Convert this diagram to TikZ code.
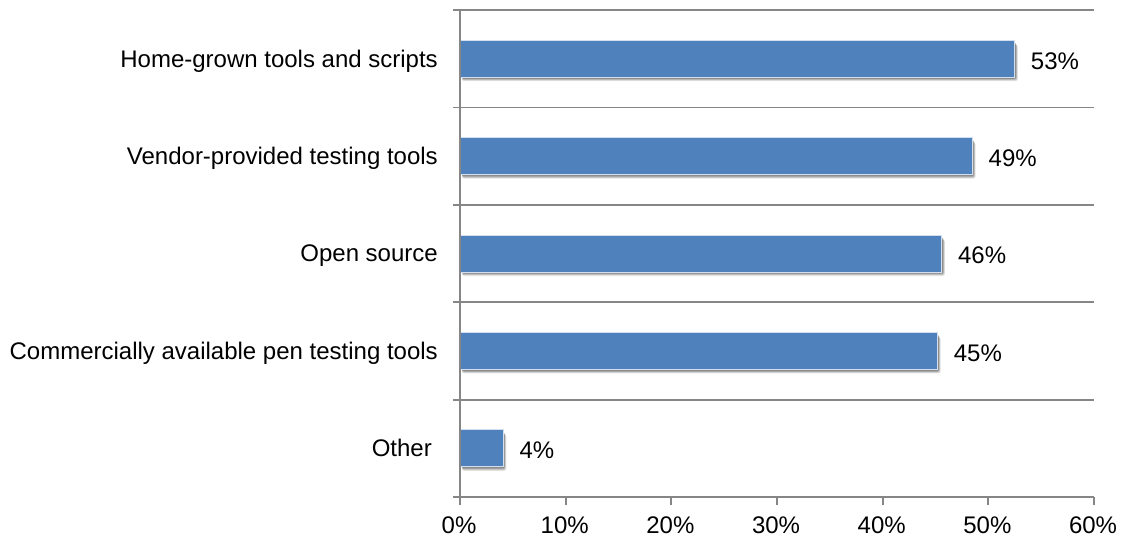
\documentclass[tikz,border=0pt]{standalone}
\usepackage{fontspec}
\setmainfont{Liberation Sans}
\definecolor{barblue}{HTML}{4F81BD}
\definecolor{axisgray}{HTML}{868686}
\begin{document}
\begin{tikzpicture}[x=1pt,y=-1pt,
  axisline/.style={draw=axisgray,line width=2.6pt},
  gridline/.style={draw=axisgray,line width=1.8pt},
  bar/.style={fill=barblue,draw=white!75!barblue,line width=0.8pt},
  labelfont/.style={font=\fontsize{24}{28}\selectfont,inner sep=0pt},
  catlabel/.style={labelfont,anchor=base east},
  vallabel/.style={labelfont,anchor=base west},
  ticklabel/.style={labelfont,anchor=base}]
\useasboundingbox (0,0) rectangle (1121,538);
% category separators and y-axis ticks
\foreach \i in {0,...,4}{
  \draw[gridline] (453,{10+97.4*\i}) -- (1094,{10+97.4*\i});
}
% x-axis with ticks and percentages
\draw[gridline] (453,497) -- (1094,497);
\foreach \k in {0,...,6}{
  \pgfmathtruncatemacro{\p}{10*\k}
  \draw[gridline] ({460+105.67*\k},497) -- ({460+105.67*\k},505);
  \node[ticklabel] (t\k) at ({459+105.67*\k},533) {\p\%};
}
% bars with soft shadows, value and category labels
\foreach \i/\v/\lab/\pct/\xr in {
  0/52.5/Home-grown tools and scripts/53\%/438,
  1/48.5/Vendor-provided testing tools/49\%/438,
  2/45.6/Open source/46\%/438,
  3/45.2/Commercially available pen testing tools/45\%/438,
  4/4.1/Other/4\%/432}{
  \pgfmathsetmacro{\yc}{58.7+97.4*\i}
  \pgfmathsetmacro{\xe}{460+10.567*\v}
  \foreach \s/\o in {5/0.10,4/0.12,3/0.15,2/0.18}{
    \fill[black,opacity=\o,rounded corners=2pt] (462,{\yc-18.5+\s}) rectangle ({\xe+\s*0.6},{\yc+18.5+\s*0.8});
  }
  \path[bar] (460,{\yc-18.5}) rectangle (\xe,{\yc+18.5});
  \node[vallabel] (v\i) at ({\xe+16},{\yc+10.3}) {\pct};
  \node[catlabel] (c\i) at (\xr,{\yc+8.3}) {\lab};
}
% y-axis
\draw[axisline] (460,10) -- (460,498);
\end{tikzpicture}
\end{document}
